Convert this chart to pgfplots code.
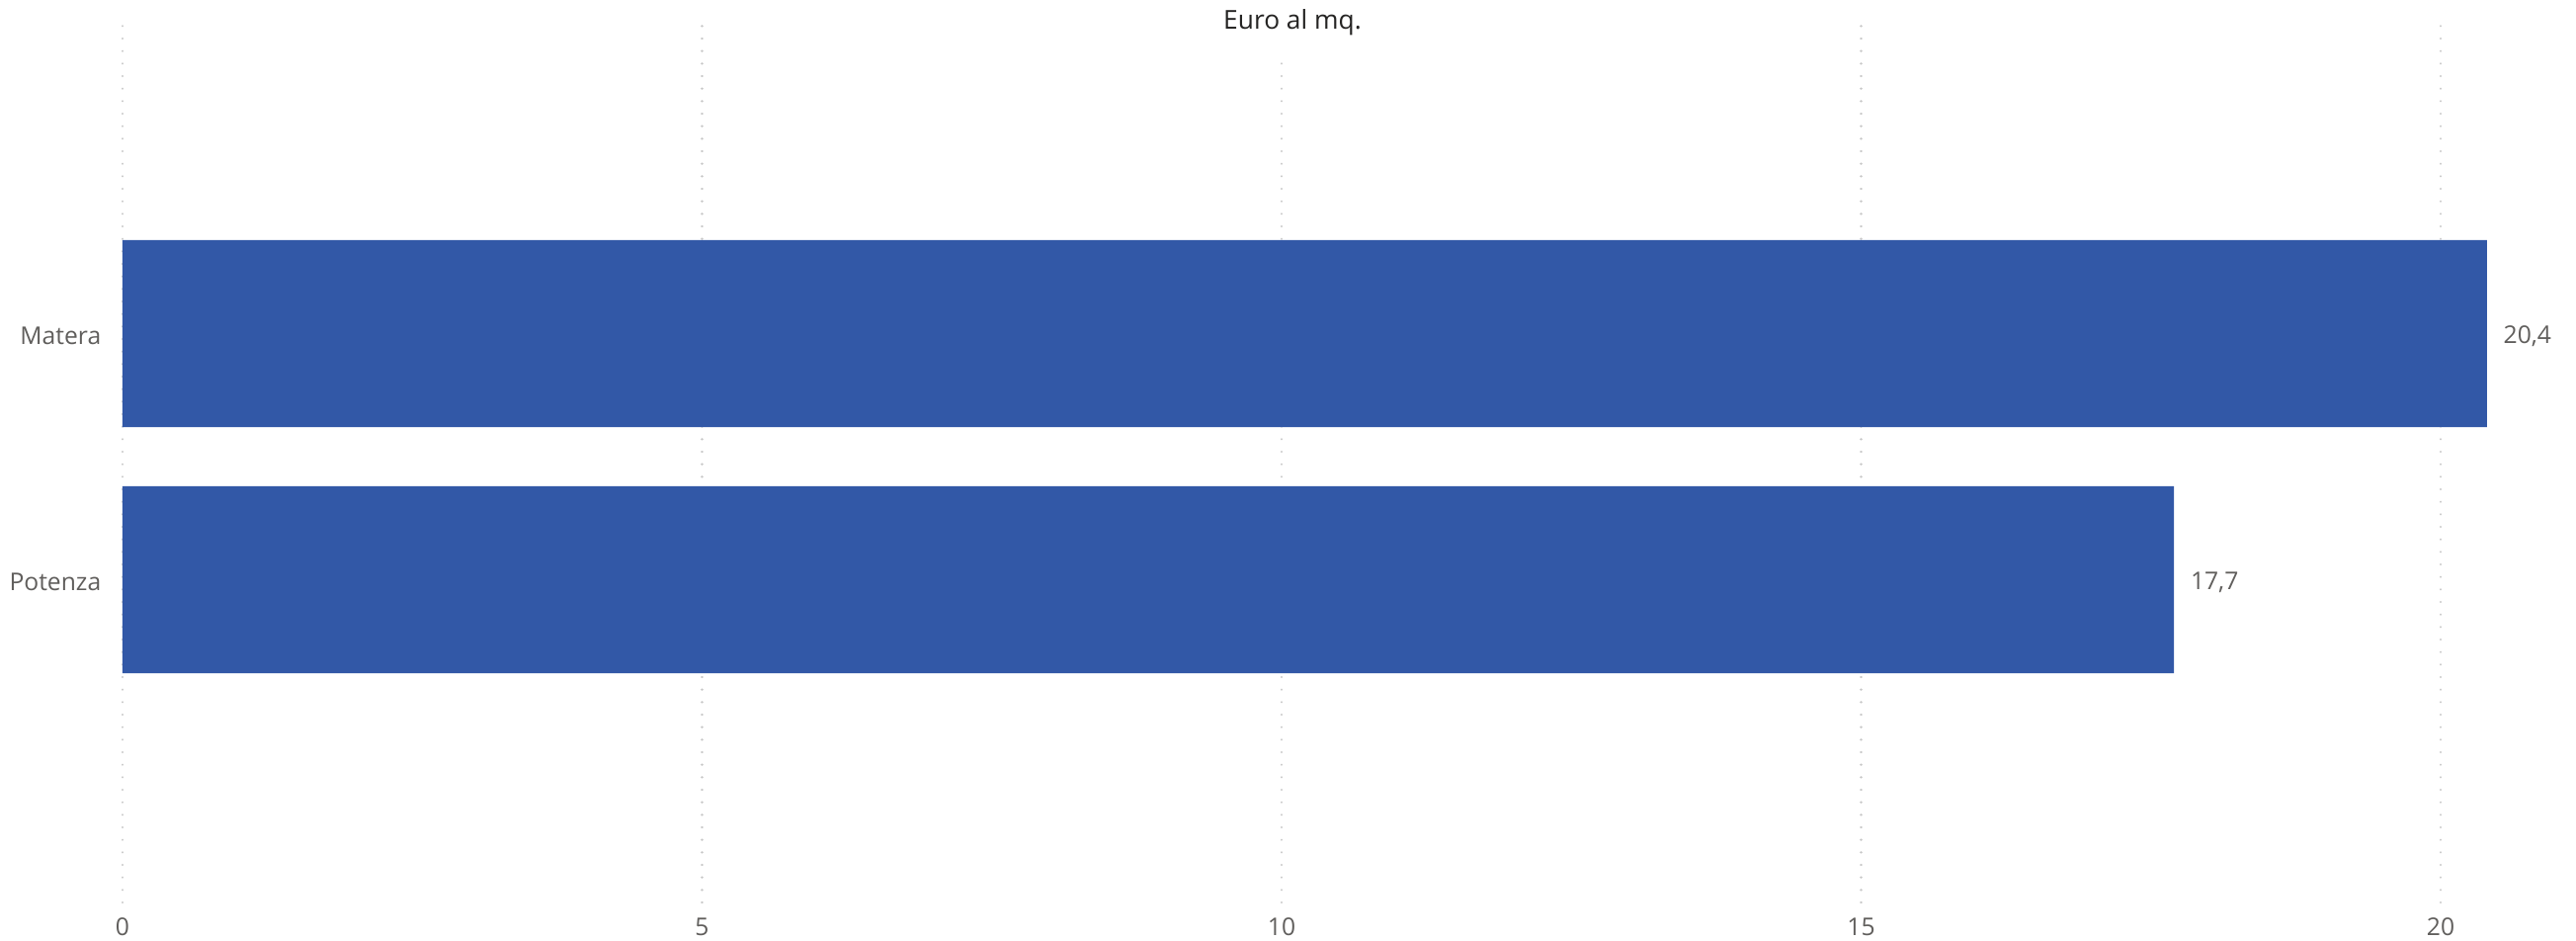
\documentclass[border=0pt]{standalone}
\usepackage{fontspec}
\setmainfont{Open Sans}
\usepackage{pgfplots}
\pgfplotsset{compat=1.18}
\definecolor{barblue}{HTML}{3258A7}
\definecolor{lblgray}{HTML}{605E5C}
\definecolor{titlegray}{HTML}{252423}
\definecolor{gridgray}{HTML}{C8C8C8}
\begin{document}
\begin{tikzpicture}[x=0.3pt,y=0.3pt]
\useasboundingbox (-124,-38) rectangle (2483,913);
\begin{axis}[
  at={(0,0)}, anchor=south west,
  scale only axis,
  width=739.0pt, height=267.9pt,
  xbar, bar width=0.76,
  xmin=0, xmax=21,
  ymin=-1.311, ymax=2.275,
  ytick={0,1}, yticklabels={Potenza,Matera},
  xtick={0,5,10,15,20},
  axis line style={draw=none},
  major tick length=0pt,
  xmajorgrids,
  grid style={gridgray, line width=0.7pt, line cap=round, dash pattern=on 0.01pt off 3.79pt},
  tick label style={font=\fontsize{7.4}{9}\selectfont, text=lblgray},
  xticklabel style={yshift=-1.2pt},
  yticklabel style={xshift=-3pt, yshift=-0.8pt},
  /pgf/number format/assume math mode=true,
  nodes near coords,
  nodes near coords style={font=\fontsize{7.4}{9}\selectfont, text=lblgray, xshift=1.5pt, yshift=-0.8pt,
    /pgf/number format/.cd, fixed, fixed zerofill, precision=1, use comma, assume math mode=true},
  clip=false,
]
\addplot[fill=barblue, draw=none] coordinates {(17.7,0) (20.4,1)};
\end{axis}
\node[fill=white, inner xsep=4pt, inner ysep=5pt, font=\fontsize{7.9}{10}\selectfont, text=titlegray] at (1184,890) {Euro al mq.};
\end{tikzpicture}
\end{document}
